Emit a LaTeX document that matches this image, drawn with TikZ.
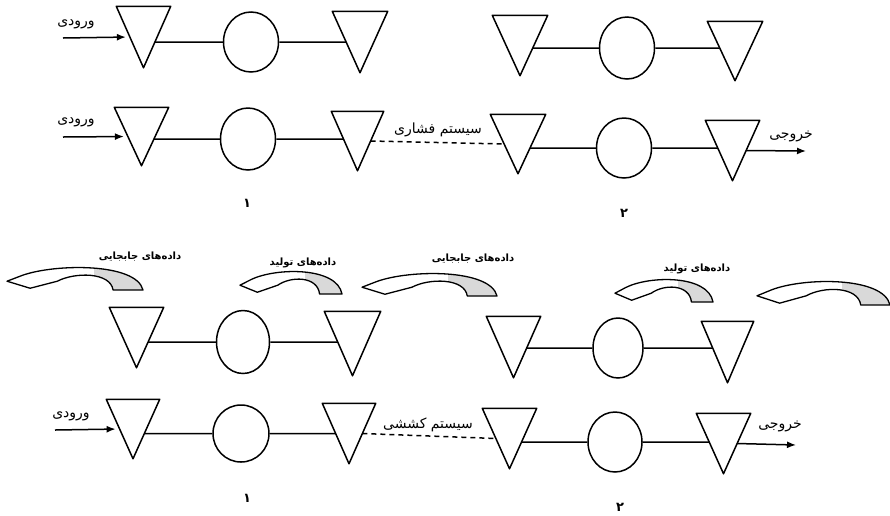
\documentclass[tikz,border=0pt]{standalone}
\usepackage{fontspec}
\usetikzlibrary{shapes.geometric,arrows.meta,calc}
\newfontfamily\fa[Script=Arabic]{DejaVu Sans}
\TeXXeTstate=1
\tikzset{
  tribox/.style 2 args={rectangle,draw=none,inner sep=0pt,minimum width=#1pt,minimum height=#2pt},
  circ/.style 2 args={ellipse,draw,inner sep=0pt,minimum width=#1pt,minimum height=#2pt},
  lbl/.style={font=\fa\fontsize{14}{16}\selectfont,inner sep=0pt},
  dlbl/.style={font=\fa\bfseries\fontsize{10}{12}\selectfont,inner sep=0pt},
  num/.style={font=\fa\bfseries\fontsize{13}{15}\selectfont,inner sep=0pt},
  flow/.style={-{Latex[length=9pt,width=7pt]}},
  pushpull/.style={dash pattern=on 5pt off 4pt},
  carrow/.pic={
    \path[fill=white] (0,0.6) -- (0.11,0.34) .. controls (0.35,-0.2) and (0.95,-0.25) .. (1,1) -- (0.78,1) .. controls (0.76,0.18) and (0.5,0.18) .. (0.37,0.6) -- (0.17,0.92) -- cycle;
    \begin{scope}
      \clip (0,0.6) -- (0.11,0.34) .. controls (0.35,-0.2) and (0.95,-0.25) .. (1,1) -- (0.78,1) .. controls (0.76,0.18) and (0.5,0.18) .. (0.37,0.6) -- (0.17,0.92) -- cycle;
      \fill[gray!30] (0.64,-0.4) rectangle (1.1,1.1);
    \end{scope}
    \draw[line width=1.3pt,line join=round] (0,0.6) -- (0.11,0.34) .. controls (0.35,-0.2) and (0.95,-0.25) .. (1,1) -- (0.78,1) .. controls (0.76,0.18) and (0.5,0.18) .. (0.37,0.6) -- (0.17,0.92) -- cycle;
  }
}
\begin{document}
\begin{tikzpicture}[x=1pt,y=-1pt,line width=1.5pt]
\useasboundingbox[fill=white] (0,0) rectangle (890,515);

% ---------- top section: push system ----------
\node[tribox={53}{60}] (T11) at (143.5,37) {};
\node[circ={55}{60}] (C11) at (251,42) {};
\node[tribox={54}{60}] (T12) at (360,42) {};
\node[tribox={54}{59}] (T13) at (520,45.5) {};
\node[circ={55}{62}] (C12) at (627,48) {};
\node[tribox={54}{58}] (T14) at (735,51) {};

\node[tribox={53}{57}] (T21) at (141.5,136.5) {};
\node[circ={55}{62}] (C21) at (248,139) {};
\node[tribox={51}{58}] (T22) at (357.5,141) {};
\node[tribox={54}{58}] (T23) at (518,144) {};
\node[circ={55}{60}] (C22) at (624,148) {};
\node[tribox={53}{59}] (T24) at (732.5,150.5) {};

% ---------- bottom section: pull system ----------
\node[tribox={53}{59}] (T31) at (136.5,337.5) {};
\node[circ={53}{63}] (C31) at (243,342) {};
\node[tribox={55}{63}] (T32) at (352.5,343.5) {};
\node[tribox={53}{60}] (T33) at (513.5,347) {};
\node[circ={50}{60}] (C32) at (618,348) {};
\node[tribox={51}{60}] (T34) at (727.5,352) {};

\node[tribox={52}{58}] (T41) at (133,429) {};
\node[circ={56}{57}] (C41) at (241,433.5) {};
\node[tribox={52}{59}] (T42) at (349,433.5) {};
\node[tribox={53}{59}] (T43) at (509.5,438.5) {};
\node[circ={54}{60}] (C43) at (615,442) {};
\node[tribox={53}{59}] (T44) at (723.5,443.5) {};

\foreach \t in {T11,T12,T13,T14,T21,T22,T23,T24,T31,T32,T33,T34,T41,T42,T43,T44}{
  \draw[line join=round] (\t.north west) -- (\t.north east) -- (\t.south) -- cycle;
  \coordinate (\t r) at ($(\t.north east)!0.5!(\t.south)$);
  \coordinate (\t l) at ($(\t.north west)!0.5!(\t.south)$);
}

% links inside each line (horizontal, at the circle's height)
\foreach \a/\c/\b in {T11/C11/T12,T13/C12/T14,T21/C21/T22,T23/C22/T24,T31/C31/T32,T33/C32/T34,T41/C41/T42,T43/C43/T44}{
  \coordinate (\a x) at (intersection of \a.north east--\a.south and \c.west--\c.east);
  \coordinate (\b x) at (intersection of \b.north west--\b.south and \c.west--\c.east);
  \draw (\a x) -- (\c.west);
  \draw (\c.east) -- (\b x);
}

% inputs and outputs
\coordinate (in1) at (63,38);
\coordinate (in2) at (63,137);
\coordinate (in4) at (55,430);
\coordinate (out2) at (806,151);
\coordinate (out4) at (796,445);
\draw[flow,shorten >=4pt] (in1) -- (T11l);
\draw[flow,shorten >=4pt] (in2) -- (T21l);
\draw[flow,shorten >=4pt] (in4) -- (T41l);
\draw[flow] (T24r) -- (out2);
\draw[flow] (T44r) -- (out4);
\draw[pushpull] (T22r) -- (T23l);
\draw[pushpull] (T42r) -- (T43l);

% labels
\node[lbl] (lin1) at (76,24) {\beginR ورودی\endR};
\node[lbl] (lin2) at (76,122) {\beginR ورودی\endR};
\node[lbl] (lin4) at (71,416) {\beginR ورودی\endR};
\node[lbl] (lout2) at (791,136) {\beginR خروجی\endR};
\node[lbl] (lout4) at (780,426) {\beginR خروجی\endR};
\node[lbl] (lpush) at (438,130) {\beginR سیستم فشاری\endR};
\node[lbl] (lpull) at (428,425) {\beginR سیستم کششی\endR};
\node[num] (n1a) at (247,203) {۱};
\node[num] (n2a) at (624,213) {۲};
\node[num] (n1b) at (247,498) {۱};
\node[num] (n2b) at (620,507) {۲};

% data flow arrows
\pic[xscale=136,yscale=22] (ca) at (7,268) {carrow};
\pic[xscale=102,yscale=22] (cb) at (240,272) {carrow};
\pic[xscale=135,yscale=22] (cc) at (362,274) {carrow};
\pic[xscale=98,yscale=22] (cd) at (615,280) {carrow};
\pic[xscale=133,yscale=23] (ce) at (757,282) {carrow};
\node[dlbl] (da) at (140,257) {\beginR داده‌های جابجایی\endR};
\node[dlbl] (db) at (303,263) {\beginR داده‌های تولید\endR};
\node[dlbl] (dc) at (473,259) {\beginR داده‌های جابجایی\endR};
\node[dlbl] (dd) at (697,269) {\beginR داده‌های تولید\endR};
\end{tikzpicture}
\end{document}
